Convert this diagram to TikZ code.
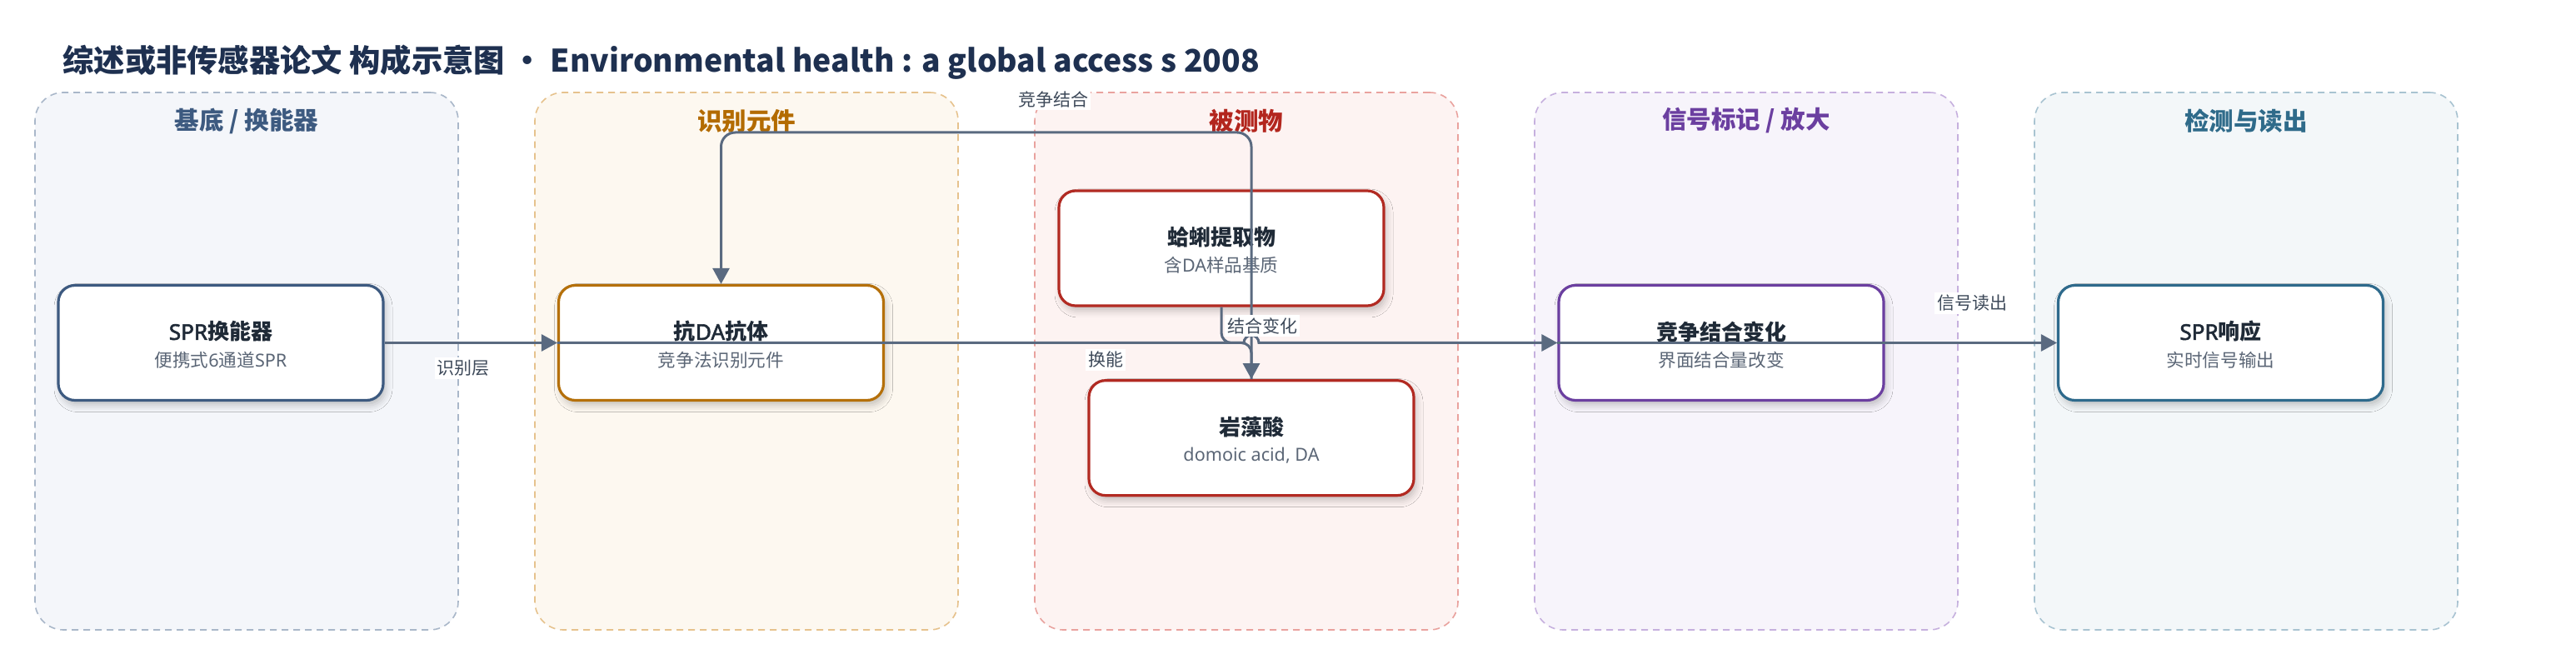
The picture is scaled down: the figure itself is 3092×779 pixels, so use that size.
\documentclass[tikz,border=0pt]{standalone}
\usepackage{fontspec}
\setmainfont{Noto Sans CJK SC}
\newfontfamily\lat{Noto Sans}[AutoFakeBold=2.2]
\usetikzlibrary{arrows.meta,shadows.blur,calc}
\definecolor{titlec}{HTML}{1E3050}
\definecolor{connc}{HTML}{5A6A80}
\definecolor{maintext}{HTML}{1F2A37}
\definecolor{subtext}{HTML}{5B6676}
\definecolor{labc}{HTML}{3E4A5A}
\definecolor{pfA}{HTML}{F4F6FA}\definecolor{pbA}{HTML}{A9B7C9}\definecolor{ptA}{HTML}{3D5A80}\definecolor{nbA}{HTML}{3D5A80}
\definecolor{pfB}{HTML}{FDF8F0}\definecolor{pbB}{HTML}{E6C28D}\definecolor{ptB}{HTML}{B36B00}\definecolor{nbB}{HTML}{B5700A}
\definecolor{pfC}{HTML}{FDF3F2}\definecolor{pbC}{HTML}{E9A29E}\definecolor{ptC}{HTML}{B3261E}\definecolor{nbC}{HTML}{B22A22}
\definecolor{pfD}{HTML}{F7F4FB}\definecolor{pbD}{HTML}{C6B0DE}\definecolor{ptD}{HTML}{6B3FA0}\definecolor{nbD}{HTML}{6B3FA0}
\definecolor{pfE}{HTML}{F3F7F9}\definecolor{pbE}{HTML}{A8C3D1}\definecolor{ptE}{HTML}{2F6B8A}\definecolor{nbE}{HTML}{2E6A8C}
\tikzset{
  panel/.style 2 args={draw=#2, fill=#1, dash pattern=on 4pt off 3pt, line width=0.8pt,
    rounded corners=17pt, minimum width=254pt, minimum height=322.5pt, inner sep=0pt},
  ptitle/.style={font=\bfseries\fontsize{14.75}{17}\selectfont, text=#1, inner sep=0pt},
  box/.style={draw=#1, fill=white, line width=1.6pt, rounded corners=10pt,
    minimum width=195pt, minimum height=69pt, inner sep=0pt,
    blur shadow={shadow xshift=1.5pt, shadow yshift=-3pt, shadow blur radius=4pt, shadow opacity=22}},
  mt/.style={font=\bfseries\fontsize{13}{15}\selectfont, text=maintext, inner sep=0pt},
  st/.style={font=\fontsize{10.8}{13}\selectfont, text=subtext, inner sep=0pt},
  conn/.style={draw=connc, line width=1.5pt, -{Triangle[length=9.5pt,width=10pt]}},
  elab/.style={font=\fontsize{10.5}{12}\selectfont, text=labc, fill=white, inner sep=1.5pt},
}
\begin{document}
\begin{tikzpicture}[x=0.5pt,y=-0.5pt]
\useasboundingbox (0,0) rectangle (3092,779);
\fill[white] (0,0) rectangle (3092,779);

% title
\node[anchor=west, font=\bfseries\fontsize{18.65}{22}\selectfont, text=titlec, inner sep=0pt] (title) at (75,75)
  {综述或非传感器论文 构成示意图 • Environmental health : a global access s 2008};

% panels
\node[panel={pfA}{pbA}] (p1) at (296,433.5) {};
\node[panel={pfB}{pbB}] (p2) at (896,433.5) {};
\node[panel={pfC}{pbC}] (p3) at (1496,433.5) {};
\node[panel={pfD}{pbD}] (p4) at (2096,433.5) {};
\node[panel={pfE}{pbE}] (p5) at (2696,433.5) {};
\node[ptitle=ptA] (p1t) at (296,145) {基底 / 换能器};
\node[ptitle=ptB] (p2t) at (896,145) {识别元件};
\node[ptitle=ptC] (p3t) at (1496,145) {被测物};
\node[ptitle=ptD] (p4t) at (2096,145) {信号标记 / 放大};
\node[ptitle=ptE] (p5t) at (2696,145) {检测与读出};

% nodes
\node[box=nbA] (n1) at (265,411.5) {};
\node[box=nbB] (n2) at (865.5,411.5) {};
\node[box=nbC] (n3) at (1466,298) {};
\node[box=nbC] (n4) at (1502,525.7) {};
\node[box=nbD] (n5) at (2066,411.5) {};
\node[box=nbE] (n6) at (2665.5,411.5) {};

\node[mt] (n1m) at ($(n1.center)+(0,-13.5)$) {{\lat SPR}换能器};
\node[st] (n1s) at ($(n1.center)+(0,20.5)$) {便携式{\lat 6}通道{\lat SPR}};
\node[mt] (n2m) at ($(n2.center)+(0,-13.5)$) {抗{\lat DA}抗体};
\node[st] (n2s) at ($(n2.center)+(0,20.5)$) {竞争法识别元件};
\node[mt] (n3m) at ($(n3.center)+(0,-13.5)$) {蛤蜊提取物};
\node[st] (n3s) at ($(n3.center)+(0,20.5)$) {含{\lat DA}样品基质};
\node[mt] (n4m) at ($(n4.center)+(0,-13.5)$) {岩藻酸};
\node[st] (n4s) at ($(n4.center)+(0,20.5)$) {\lat domoic acid, DA};
\node[mt] (n5m) at ($(n5.center)+(0,-13.5)$) {竞争结合变化};
\node[st] (n5s) at ($(n5.center)+(0,20.5)$) {界面结合量改变};
\node[mt] (n6m) at ($(n6.center)+(0,-13.5)$) {{\lat SPR}响应};
\node[st] (n6s) at ($(n6.center)+(0,20.5)$) {实时信号输出};

% connectors
\draw[conn] (n1.east) -- (n2.west);
\draw[conn] (n2.west) -- (1493,411.5) arc[start angle=180, end angle=0, radius=4.5pt] -- (n5.west);
\draw[conn] (n5.west) -- (n6.west);
\draw[conn, rounded corners=8.5pt] (n4.north) -- (1502,159) -| (n2.north);
\draw[conn, rounded corners=6pt] (n3.south) -- (1466,411.5) -- (1502,411.5) -- (n4.north);

% connector labels
\node[elab] (l1) at (556,442) {识别层};
\node[elab] (l2) at (1327,432) {换能};
\node[elab] (l3) at (1264,119) {竞争结合};
\node[elab] (l4) at (1515,391) {结合变化};
\node[elab] (l5) at (2367,364) {信号读出};
\end{tikzpicture}
\end{document}
